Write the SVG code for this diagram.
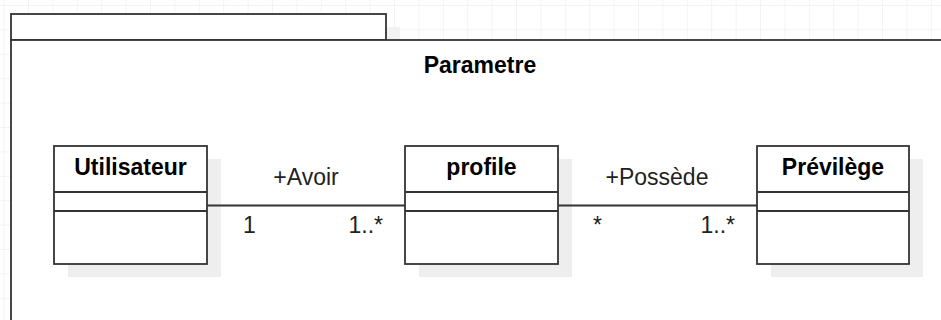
<svg xmlns="http://www.w3.org/2000/svg" width="941" height="320" viewBox="0 0 941 320">
  <defs>
    <pattern id="grid" x="3.6" y="5" width="24.4" height="24.4" patternUnits="userSpaceOnUse">
      <path d="M0 0 H24.4 M0 0 V24.4" fill="none" stroke="#e8e8e8" stroke-width="1"/>
    </pattern>
  </defs>
  <style>
    .box { fill: #ffffff; stroke: #333333; stroke-width: 1.8; }
    .shadow { fill: #eeeeee; stroke: none; }
    .pkgshadow { fill: #f2f2f2; stroke: none; }
    .div { stroke: #333333; stroke-width: 1.8; }
    .title { font-family: "Liberation Sans", Arial, sans-serif; font-weight: bold; font-size: 23px; fill: #000000; text-anchor: middle; }
    .label { font-family: "Liberation Sans", Arial, sans-serif; font-size: 23px; fill: #222222; }
    .conn { stroke: #333333; stroke-width: 1.8; fill: none; }
  </style>
  <rect width="941" height="320" fill="#ffffff"/>
  <rect width="941" height="320" fill="url(#grid)"/>

  <g id="package-Parametre">
    <rect class="pkgshadow" x="25" y="27" width="375" height="26"/>
    <rect class="box" x="11" y="14" width="375" height="26"/>
    <rect class="box" x="11" y="40" width="960" height="300"/>
    <text class="title" x="480" y="73">Parametre</text>
  </g>

  <g id="class-Utilisateur">
    <rect class="shadow" x="68" y="159" width="153" height="118"/>
    <rect class="box" x="54" y="146" width="153" height="118"/>
    <line class="div" x1="54" y1="192" x2="207" y2="192"/>
    <line class="div" x1="54" y1="211" x2="207" y2="211"/>
    <text class="title" x="130.5" y="175">Utilisateur</text>
  </g>

  <g id="class-profile">
    <rect class="shadow" x="419" y="159" width="153" height="118"/>
    <rect class="box" x="405" y="146" width="153" height="118"/>
    <line class="div" x1="405" y1="192" x2="558" y2="192"/>
    <line class="div" x1="405" y1="211" x2="558" y2="211"/>
    <text class="title" x="481.5" y="175">profile</text>
  </g>

  <g id="class-Previlege">
    <rect class="shadow" x="771" y="159" width="152" height="118"/>
    <rect class="box" x="757" y="146" width="152" height="118"/>
    <line class="div" x1="757" y1="192" x2="909" y2="192"/>
    <line class="div" x1="757" y1="211" x2="909" y2="211"/>
    <text class="title" x="833" y="175">Prévilège</text>
  </g>

  <g id="connectors">
    <line class="conn" x1="207" y1="205.5" x2="405" y2="205.5"/>
    <text class="label" x="306" y="185" text-anchor="middle">+Avoir</text>
    <text class="label" x="243" y="233">1</text>
    <text class="label" x="383" y="233" text-anchor="end">1..*</text>
    <line class="conn" x1="558" y1="205.5" x2="757" y2="205.5"/>
    <text class="label" x="657" y="185" text-anchor="middle">+Possède</text>
    <text class="label" x="593" y="233">*</text>
    <text class="label" x="735" y="233" text-anchor="end">1..*</text>
  </g>
</svg>
